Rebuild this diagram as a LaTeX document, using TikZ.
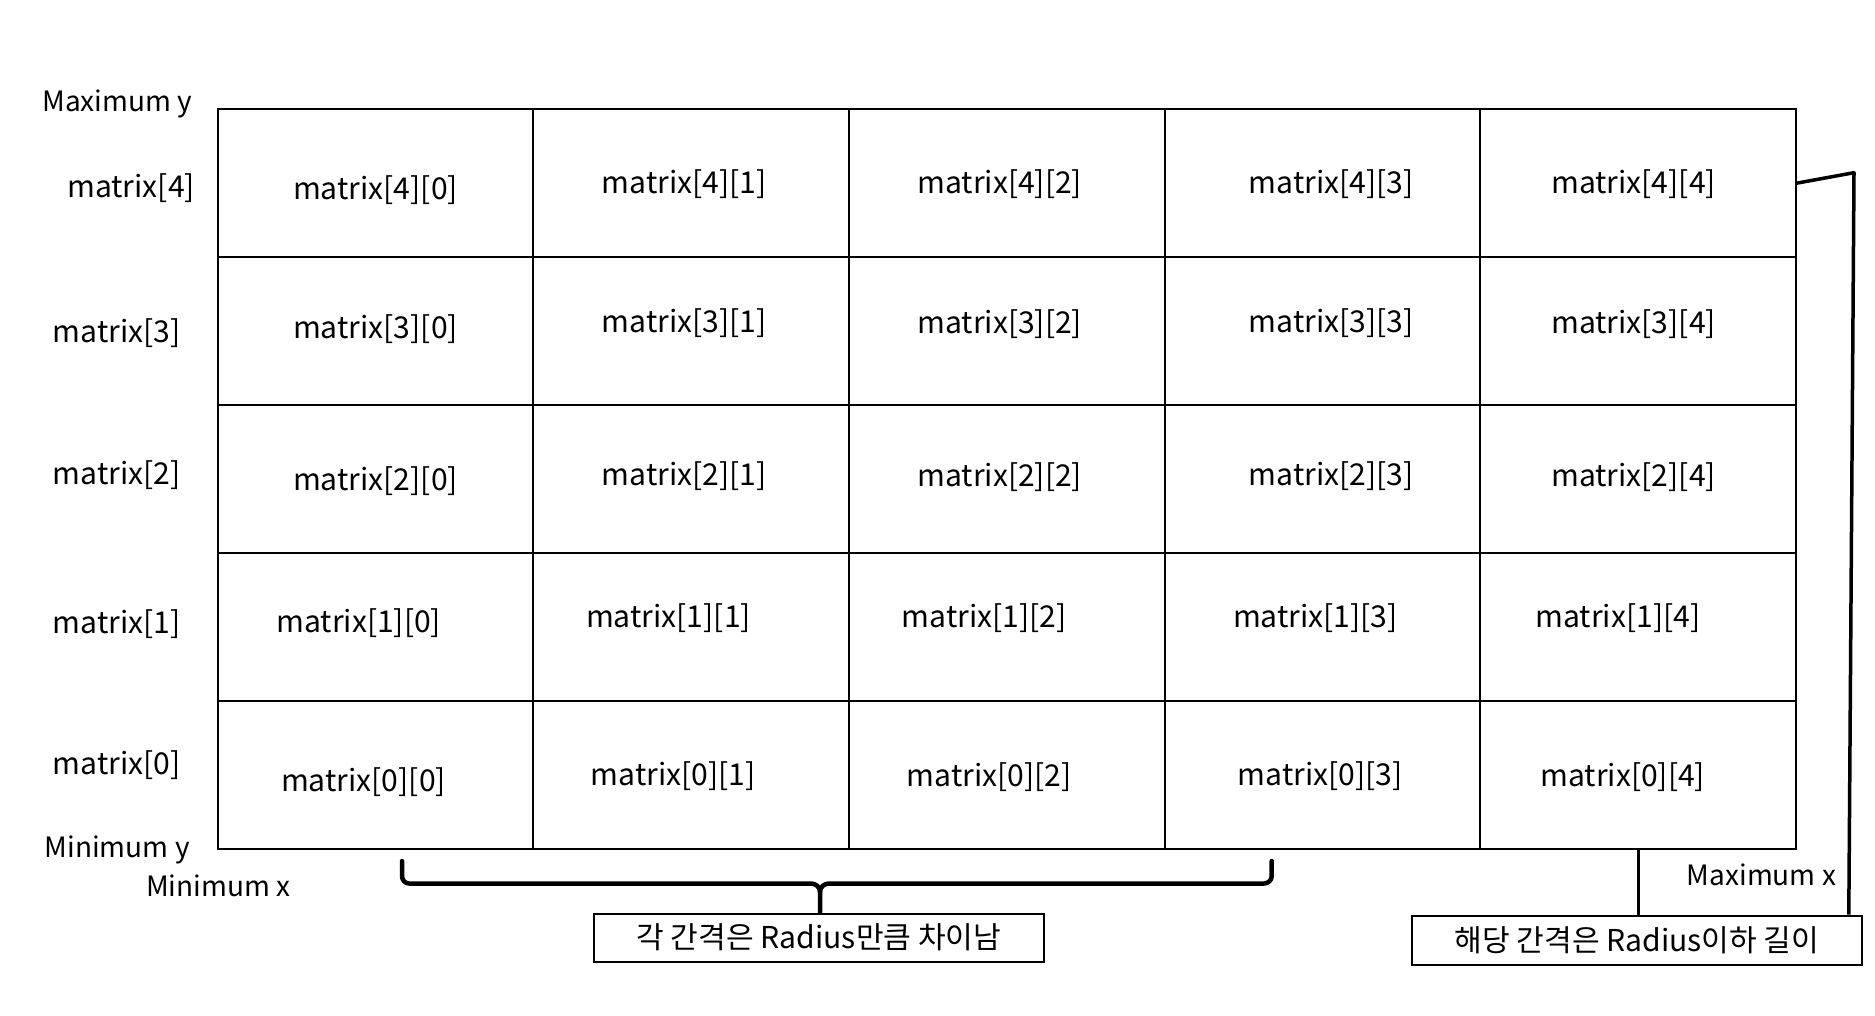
\documentclass[tikz,border=0pt]{standalone}
\usepackage{fontspec}
\setmainfont{Noto Sans CJK KR}
\usetikzlibrary{calc}
\newcommand\cellfnt{\fontsize{30.1}{35}\selectfont}
\newcommand\labfnt{\fontsize{28}{32}\selectfont}
\tikzset{
  cell/.style={font=\cellfnt, inner sep=0pt, anchor=center},
  lab/.style={font=\labfnt, inner sep=0pt, anchor=center},
  gridline/.style={line width=2pt, line cap=rect},
  notebox/.style={draw, line width=2.2pt, inner sep=0pt, font=\cellfnt},
  heavy/.style={line width=4.5pt, line cap=round, line join=round},
  medium/.style={line width=3.5pt, line join=round},
}
\begin{document}
\begin{tikzpicture}[x=1pt, y=-1pt]
\useasboundingbox[fill=white] (0,0) rectangle (1875,1016);

% grid
\foreach \x in {217.7,532.7,849,1164.7,1480.4,1796}
  \draw[gridline] (\x,109) -- (\x,849);
\foreach \y in {109,256.7,404.5,552.7,700.7,849}
  \draw[gridline] (217.7,\y) -- (1796,\y);

\coordinate (gridR) at (1796,183.3);
\coordinate (gridB) at (1638.3,849);
\coordinate (rtop) at (1854,172.7);

% cells
\node[cell] (c40) at (375.5,190.1) {matrix[4][0]};
\node[cell] (c41) at (684,184.2) {matrix[4][1]};
\node[cell] (c42) at (999.7,184.2) {matrix[4][2]};
\node[cell] (c43) at (1331,184.2) {matrix[4][3]};
\node[cell] (c44) at (1633.5,184.2) {matrix[4][4]};

\node[cell] (c30) at (375.5,328.8) {matrix[3][0]};
\node[cell] (c31) at (684,322.9) {matrix[3][1]};
\node[cell] (c32) at (999.7,324.1) {matrix[3][2]};
\node[cell] (c33) at (1331,322.9) {matrix[3][3]};
\node[cell] (c34) at (1633.5,324.1) {matrix[3][4]};

\node[cell] (c20) at (375.5,480.7) {matrix[2][0]};
\node[cell] (c21) at (684,475.9) {matrix[2][1]};
\node[cell] (c22) at (999.7,477.1) {matrix[2][2]};
\node[cell] (c23) at (1331,475.9) {matrix[2][3]};
\node[cell] (c24) at (1633.5,477.1) {matrix[2][4]};

\node[cell] (c10) at (358.7,623) {matrix[1][0]};
\node[cell] (c11) at (668.5,618.2) {matrix[1][1]};
\node[cell] (c12) at (984.1,618.2) {matrix[1][2]};
\node[cell] (c13) at (1315.4,618.2) {matrix[1][3]};
\node[cell] (c14) at (1617.9,618.2) {matrix[1][4]};

\node[cell] (c00) at (363.5,782) {matrix[0][0]};
\node[cell] (c01) at (673.2,776) {matrix[0][1]};
\node[cell] (c02) at (989,777.3) {matrix[0][2]};
\node[cell] (c03) at (1320.2,776) {matrix[0][3]};
\node[cell] (c04) at (1622.7,777.3) {matrix[0][4]};

% row labels
\node[cell] (r4) at (131,187.7) {matrix[4]};
\node[cell] (r3) at (116.6,333.6) {matrix[3]};
\node[cell] (r2) at (116.6,474.7) {matrix[2]};
\node[cell] (r1) at (116.6,624.2) {matrix[1]};
\node[cell] (r0) at (116.6,765.3) {matrix[0]};

\node[lab] (maxy) at (117.2,104) {Maximum y};
\node[lab] (miny) at (117.2,850.2) {Minimum y};
\node[lab] (minx) at (218.2,886) {Minimum x};
\node[lab] (maxx) at (1761.5,875) {Maximum x};

% note boxes
\node[notebox, minimum width=450.3pt, minimum height=48pt] (note1) at (818.9,937.7) {각 간격은 Radius만큼 차이남};
\node[notebox, minimum width=449.4pt, minimum height=49.3pt] (note2) at (1637,940.4) {해당 간격은 Radius이하 길이};

% brace
\draw[heavy] (402,861) -- (402,876) to[out=-90,in=180] (409,883.5) -- (811,883.5)
   to[out=0,in=90] (820,892) -- (note1.north -| 820,0);
\draw[heavy] (820,892) to[out=90,in=180] (829,883.5) -- (1264,883.5)
   to[out=0,in=-90] (1271.7,876) -- (1271.7,861);

% right connectors
\draw[medium] (gridR) -- (rtop) -- ($(note2.north east)+(-14,0)$);
\draw[medium] (gridB) -- (gridB |- note2.north);
\end{tikzpicture}
\end{document}
